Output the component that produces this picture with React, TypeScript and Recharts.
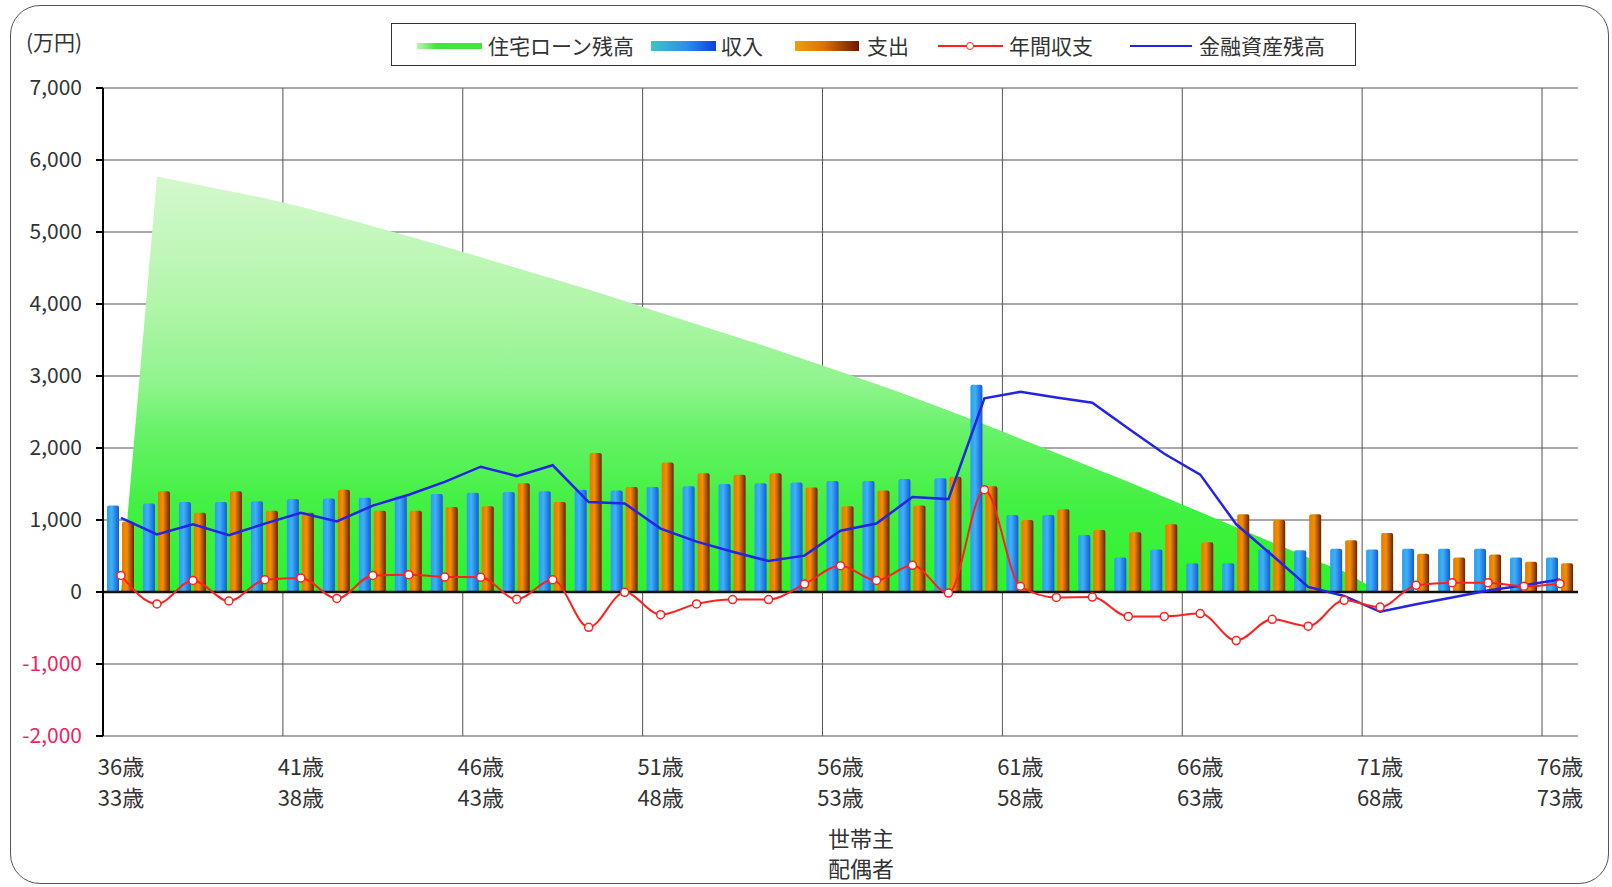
import React from "react";
import {
  ComposedChart,
  Area,
  Bar,
  Line,
  XAxis,
  YAxis,
  CartesianGrid,
  ReferenceLine,
} from "recharts";

// 世帯主 / 配偶者 の年齢
const householderAges = [
  36, 37, 38, 39, 40, 41, 42, 43, 44, 45, 46, 47, 48, 49, 50, 51, 52, 53, 54, 55, 56,
  57, 58, 59, 60, 61, 62, 63, 64, 65, 66, 67, 68, 69, 70, 71, 72, 73, 74, 75, 76,
];
const spouseAges = [
  33, 34, 35, 36, 37, 38, 39, 40, 41, 42, 43, 44, 45, 46, 47, 48, 49, 50, 51, 52, 53,
  54, 55, 56, 57, 58, 59, 60, 61, 62, 63, 64, 65, 66, 67, 68, 69, 70, 71, 72, 73,
];

// 万円
const income = [
  1200, 1230, 1250, 1250, 1260, 1290, 1300, 1310, 1330, 1360, 1380, 1390, 1400, 1420,
  1410, 1460, 1470, 1500, 1510, 1520, 1540, 1540, 1570, 1580, 2880, 1070, 1070, 790,
  480, 590, 400, 400, 590, 580, 600, 590, 600, 600, 600, 480, 480,
];
const expense = [
  980, 1400, 1100, 1400, 1130, 1100, 1420, 1130, 1130, 1180, 1190, 1510, 1250, 1930,
  1460, 1800, 1650, 1630, 1650, 1450, 1190, 1410, 1200, 1600, 1470, 1000, 1150, 860,
  830, 940, 690, 1080, 1000, 1080, 720, 820, 530, 480, 520, 420, 400,
];
const annualBalance = [
  230, -165, 160, -125, 170, 195, -90, 230, 240, 210, 205, -100, 170, -490, -5, -315,
  -165, -105, -105, 110, 365, 160, 370, -15, 1420, 80, -75, -70, -340, -340, -300,
  -675, -380, -475, -115, -210, 95, 130, 130, 80, 115,
];
const assetBalance = [
  1030, 800, 940, 790, 950, 1100, 980, 1200, 1350, 1530, 1740, 1610, 1760, 1250, 1230,
  880, 700, 560, 430, 505, 850, 950, 1320, 1290, 2690, 2780, 2700, 2630, 2270, 1920,
  1630, 940, 510, 70, -55, -275, -170, -75, 20, 95, 175,
];
const loanBalance = [
  0, 5770, 5670, 5570, 5470, 5350, 5220, 5080, 4940, 4800, 4650, 4500, 4350, 4200,
  4040, 3880, 3720, 3560, 3400, 3230, 3060, 2890, 2710, 2520, 2330, 2130, 1930, 1730,
  1530, 1320, 1110, 900, 690, 480, 280, 0, 0, 0, 0, 0, 0,
];

const yTicks = [-2000, -1000, 0, 1000, 2000, 3000, 4000, 5000, 6000, 7000];
const boundaryAges = [41, 46, 51, 56, 61, 66, 71, 76];

const data = householderAges.map((age, i) => ({
  age,
  spouse: spouseAges[i],
  income: income[i],
  expense: expense[i],
  balance: annualBalance[i],
  assets: assetBalance[i],
  loan: loanBalance[i],
}));

const FONT = '"Noto Sans CJK JP", "Noto Sans", sans-serif';

function boundaryLines({ xAxis, offset }: any) {
  const scale = xAxis?.scale;
  if (typeof scale === "function" && typeof scale.bandwidth === "function") {
    const xs = boundaryAges.map((a) => scale(a));
    if (xs.every((v: any) => Number.isFinite(v))) return xs;
  }
  const step = offset.width / householderAges.length;
  return boundaryAges.map((a) => offset.left + householderAges.indexOf(a) * step);
}

function YTick({ x, y, payload }: any) {
  const v = payload.value as number;
  return (
    <text
      x={x}
      y={y}
      dy={7}
      textAnchor="end"
      fontSize={21}
      fontFamily={FONT}
      fill={v < 0 ? "#f0245c" : "#333"}
    >
      {v.toLocaleString("en-US")}
    </text>
  );
}

function XTick({ x, y, payload }: any) {
  const i = householderAges.indexOf(payload.value);
  return (
    <g fontSize={22} fontFamily={FONT} fill="#333">
      <text x={x} y={y + 39} textAnchor="middle">
        {payload.value}歳
      </text>
      <text x={x} y={y + 70} textAnchor="middle">
        {spouseAges[i]}歳
      </text>
    </g>
  );
}

function BalanceDot({ cx, cy }: any) {
  if (cx == null || cy == null) return null;
  return <circle cx={cx} cy={cy} r={4} fill="#fff" stroke="#ff2020" strokeWidth={1.5} />;
}

const legendText: React.CSSProperties = {
  position: "absolute",
  top: 34,
  fontSize: 21,
  lineHeight: 1,
  fontFamily: FONT,
  color: "#333",
  whiteSpace: "nowrap",
};

function ChartLegend() {
  return (
    <div
      style={{
        position: "absolute",
        left: 391,
        top: 23,
        width: 965,
        height: 43,
        border: "1.5px solid #333",
        background: "#fff",
        boxSizing: "border-box",
      }}
    >
      <div style={{ position: "absolute", inset: 0, transform: "translate(-391px,-23px)" }}>
        <div style={{ position: "absolute", left: 416, top: 42, width: 65, height: 6, background: "linear-gradient(90deg,#b8f5b0,#3ee63e 30%,#3ee63e)" }} />
        <div style={{ ...legendText, left: 487 }}>住宅ローン残高</div>
        <div style={{ position: "absolute", left: 650, top: 40, width: 65, height: 10, background: "linear-gradient(90deg,#38c8c0,#2a8ef0 55%,#1040e0)" }} />
        <div style={{ ...legendText, left: 720 }}>収入</div>
        <div style={{ position: "absolute", left: 794, top: 40, width: 64, height: 10, background: "linear-gradient(90deg,#f0a010,#e07000 45%,#6a1a00)" }} />
        <div style={{ ...legendText, left: 866 }}>支出</div>
        <div style={{ position: "absolute", left: 937, top: 44, width: 65, height: 2, background: "#ff2020" }} />
        <div style={{ position: "absolute", left: 965, top: 41, width: 6, height: 6, borderRadius: "50%", border: "1.5px solid #ff2020", background: "#fff" }} />
        <div style={{ ...legendText, left: 1008 }}>年間収支</div>
        <div style={{ position: "absolute", left: 1129, top: 44, width: 62, height: 2, background: "#2424e6" }} />
        <div style={{ ...legendText, left: 1198 }}>金融資産残高</div>
      </div>
    </div>
  );
}

export default function App() {
  return (
    <div style={{ position: "absolute", left: 0, top: 0, width: 1612, height: 887, background: "#fff" }}>
      <div
        style={{
          position: "absolute",
          left: 10,
          top: 5,
          width: 1599,
          height: 879,
          border: "1.5px solid #555",
          borderRadius: 30,
          boxSizing: "border-box",
        }}
      />
      <ComposedChart
        width={1612}
        height={887}
        data={data}
        margin={{ top: 88, right: 34, bottom: 0, left: 0 }}
        barGap={3}
        style={{ position: "absolute", left: 0, top: 0 }}
      >
        <defs>
          <linearGradient id="loanFill" x1="0" y1="0" x2="0" y2="1">
            <stop offset="0%" stopColor="#d4f8ce" />
            <stop offset="30%" stopColor="#b2f6aa" />
            <stop offset="50%" stopColor="#8ef48c" />
            <stop offset="62%" stopColor="#66f266" />
            <stop offset="78%" stopColor="#44f044" />
            <stop offset="100%" stopColor="#2cf42c" />
          </linearGradient>
          <linearGradient id="incomeFill" x1="0" y1="0" x2="1" y2="0">
            <stop offset="0%" stopColor="#2c9ee8" />
            <stop offset="40%" stopColor="#3cb2f6" />
            <stop offset="100%" stopColor="#1858d8" />
          </linearGradient>
          <linearGradient id="expenseFill" x1="0" y1="0" x2="1" y2="0">
            <stop offset="0%" stopColor="#e87800" />
            <stop offset="40%" stopColor="#f39000" />
            <stop offset="100%" stopColor="#6e2000" />
          </linearGradient>
        </defs>
        <CartesianGrid vertical={false} stroke="#8c8c8c" strokeWidth={1.5} />
        <CartesianGrid horizontal={false} stroke="#555" strokeWidth={1} verticalCoordinatesGenerator={boundaryLines} />
        <XAxis
          dataKey="age"
          interval={4}
          height={151}
          axisLine={false}
          tickLine={false}
          tickSize={0}
          tickMargin={0}
          tick={<XTick />}
        />
        <YAxis
          width={103}
          domain={[-2000, 7000]}
          ticks={yTicks}
          interval={0}
          axisLine={{ stroke: "#000", strokeWidth: 2 }}
          tickLine={{ stroke: "#000", strokeWidth: 2 }}
          tickSize={7}
          tickMargin={14}
          tick={<YTick />}
        />
        <Area
          type="linear"
          dataKey="loan"
          baseValue={0}
          stroke="none"
          fill="url(#loanFill)"
          fillOpacity={1}
          isAnimationActive={false}
        />
        <Bar dataKey="income" barSize={12} fill="url(#incomeFill)" radius={[2, 2, 0, 0]} isAnimationActive={false} />
        <Bar dataKey="expense" barSize={12} fill="url(#expenseFill)" radius={[2, 2, 0, 0]} isAnimationActive={false} />
        <ReferenceLine y={0} stroke="#111" strokeWidth={2.5} />
        <Line type="linear" dataKey="assets" stroke="#2424e6" strokeWidth={2.5} dot={false} isAnimationActive={false} />
        <Line
          type="monotone"
          dataKey="balance"
          stroke="#ff2020"
          strokeWidth={2}
          dot={<BalanceDot />}
          activeDot={false}
          isAnimationActive={false}
        />
      </ComposedChart>
      <ChartLegend />
      <div style={{ position: "absolute", left: 26, top: 31, fontSize: 21, lineHeight: 1, fontFamily: FONT, color: "#333" }}>
        (万円)
      </div>
      <div
        style={{
          position: "absolute",
          left: 761,
          top: 822,
          width: 200,
          textAlign: "center",
          fontSize: 22,
          lineHeight: "30px",
          fontFamily: FONT,
          color: "#333",
        }}
      >
        世帯主
        <br />
        配偶者
      </div>
    </div>
  );
}
